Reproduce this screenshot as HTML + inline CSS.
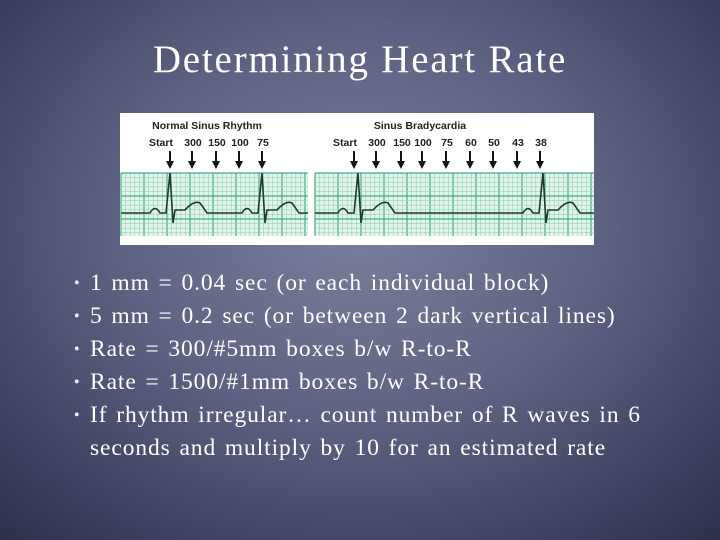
<!DOCTYPE html>
<html><head><meta charset="utf-8">
<style>
html,body{margin:0;padding:0}
body{width:720px;height:540px;overflow:hidden;position:relative;font-family:"Liberation Serif",serif;
background:radial-gradient(ellipse 75% 80% at 50% 42%,#7a7f9c 0%,#5d6282 45%,#3d4160 80%,#2c2f47 100%);}
#title{position:absolute;left:0;width:720px;top:37px;text-align:center;color:#fff;font-size:39px;letter-spacing:1.8px;margin:0;font-weight:normal}
#ecg{position:absolute;left:120px;top:113px}
ul{position:absolute;left:0;top:267px;margin:0;padding:0;list-style:none;color:#fff;font-size:23.5px;letter-spacing:0.9px;word-spacing:2px;line-height:33px}
li{position:relative;padding-left:90px;width:560px}
li:before{content:"•";position:absolute;left:74px;font-size:16px}
</style></head><body>
<h1 id="title">Determining Heart Rate</h1>
<svg id="ecg" width="474" height="132"></svg>
<ul>
<li>1 mm = 0.04 sec (or each individual block)</li>
<li>5 mm = 0.2 sec (or between 2 dark vertical lines)</li>
<li>Rate = 300/#5mm boxes b/w R-to-R</li>
<li>Rate = 1500/#1mm boxes b/w R-to-R</li>
<li>If rhythm irregular… count number of R waves in 6 seconds and multiply by 10 for an estimated rate</li>
</ul>
<script>
const leftLabels=["Start","300","150","100","75"];
const rightLabels=["Start","300","150","100","75","60","50","43","38"];
const leftBeats=[50,142];   // R peak positions (px within figure)
const rightBeats=[238,423];
const NS="http://www.w3.org/2000/svg";
const svg=document.getElementById('ecg');
function mk(t,a){const e=document.createElementNS(NS,t);for(const k in a)e.setAttribute(k,a[k]);svg.appendChild(e);return e;}
const bg=mk('rect',{x:0,y:0,width:474,height:132,fill:'#fff'});


function strip(x0,x1,name){
  const g=mk('rect',{x:x0,y:60,width:x1-x0,height:63,fill:'#e4f4ec'});
  
  
  const step=4.6;
  for(let i=0;x0+i*step<=x1;i++){const x=x0+i*step;mk('line',{x1:x,y1:60,x2:x,y2:123,stroke:i%5==0?'#3fae80':'#8fd4b4','stroke-width':i%5==0?1.2:0.6});}
  for(let j=0;60+j*step<=123.5;j++){const y=60+j*step;mk('line',{x1:x0,y1:y,x2:x1,y2:y,stroke:j%5==0?'#3fae80':'#8fd4b4','stroke-width':j%5==0?1.2:0.6});}
}
strip(1,188,'normal-grid');strip(195,474,'brady-grid');
function trace(x0,x1,beats,name){
  const b=100;let d='M'+x0+' '+b;
  beats.forEach(r=>{
    d+=` L${r-20} ${b} Q${r-15} ${b-9} ${r-10} ${b} L${r-4} ${b} L${r} ${b-40} L${r+3} ${b+10} L${r+5} ${b-3} L${r+15} ${b-3} Q${r+24} ${b-13} ${r+30} ${b-10} L${r+37} ${b}`;
  });
  d+=` L${x1} ${b}`;
  const p=mk('path',{d:d,fill:'none',stroke:'#1c3a2a','stroke-width':1.6});
  
  
}
trace(1,188,leftBeats,'normal-trace');trace(195,474,rightBeats,'brady-trace');
function txt(s,x,y,name){const t=mk('text',{x:x,y:y,'text-anchor':'middle','font-family':'Liberation Sans, sans-serif','font-weight':'bold','font-size':'10.5',fill:'#222'});t.textContent=s;return t;}
txt('Normal Sinus Rhythm',87,16,'normal-title');
txt('Sinus Bradycardia',300,16,'brady-title');
function arrows(labels,x0,steps,pre){
  labels.forEach((l,i)=>{
    const x=x0+steps[i];
    txt(l,i==0?x-9:x+1,33,pre+'-label');
    mk('line',{x1:x,y1:38,x2:x,y2:50,stroke:'#111','stroke-width':2});
    const a=mk('path',{d:`M${x-4} ${48} L${x+4} ${48} L${x} ${56} Z`,fill:'#111'});
    
    
  });
}
arrows(leftLabels,50,[0,22,46,69,92],'normal');
arrows(rightLabels,234,[0,22,47,68,92,116,139,163,186],'brady');
</script>
</body></html>
